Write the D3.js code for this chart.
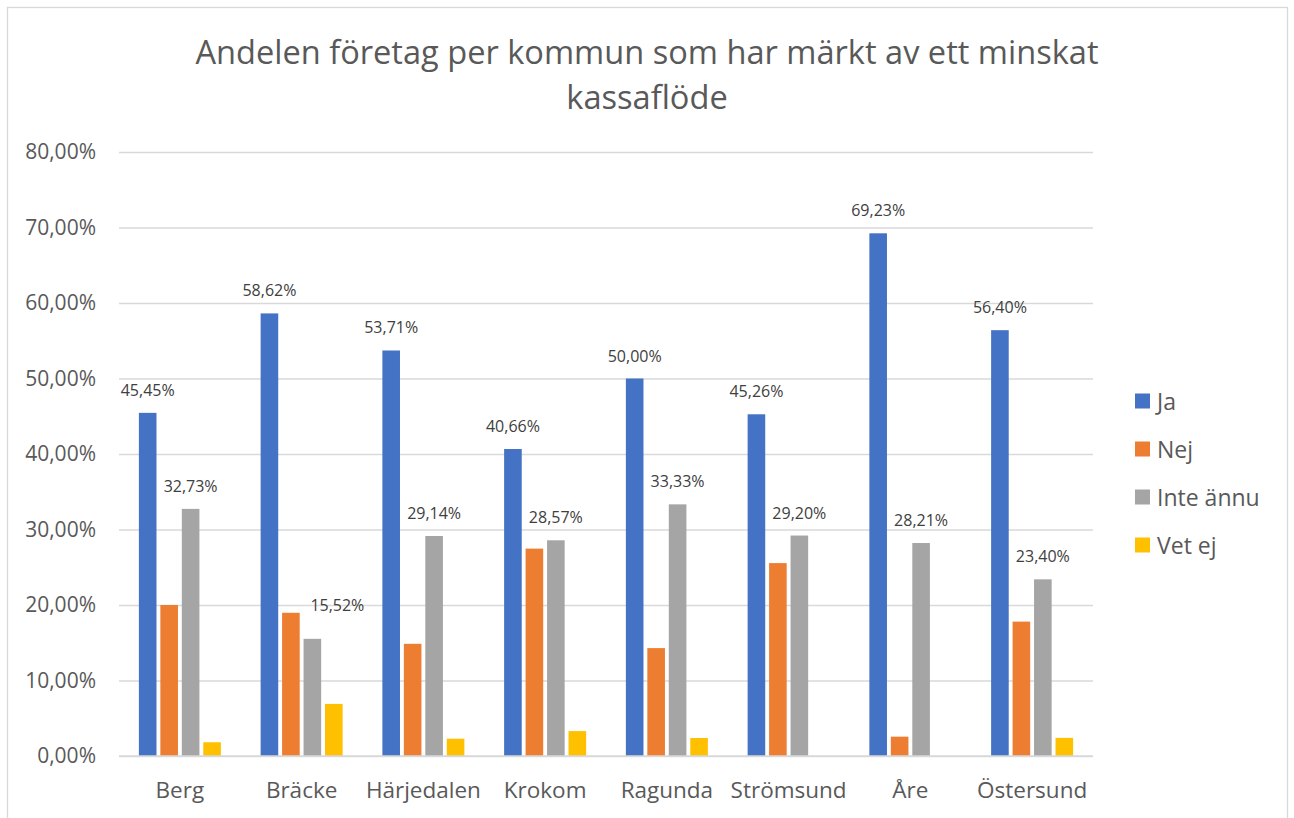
<!DOCTYPE html>
<html>
<head>
<meta charset="utf-8">
<script src="https://cdn.jsdelivr.net/npm/d3@7"></script>
<style>
  html, body { margin: 0; padding: 0; background: #fff; }
  svg { display: block; }
  text { font-family: "Open Sans", "Noto Sans", sans-serif; }
</style>
</head>
<body>
<svg id="chart" width="1294" height="818"></svg>
<script>
const titleLines = ["Andelen företag per kommun som har märkt av ett minskat", "kassaflöde"];
const categories = ["Berg", "Bräcke", "Härjedalen", "Krokom", "Ragunda", "Strömsund", "Åre", "Östersund"];
const seriesNames = ["Ja", "Nej", "Inte ännu", "Vet ej"];
const ja       = [45.45, 58.62, 53.71, 40.66, 50.00, 45.26, 69.23, 56.40];
const nej      = [20.00, 18.97, 14.86, 27.47, 14.29, 25.55, 2.56, 17.80];
const inteAnnu = [32.73, 15.52, 29.14, 28.57, 33.33, 29.20, 28.21, 23.40];
const vetEj    = [1.82, 6.90, 2.29, 3.30, 2.38, 0, 0, 2.40];
const labeledSeries = ["Ja", "Inte ännu"];
const yTicks = [0, 10, 20, 30, 40, 50, 60, 70, 80];
const colors = ["#4472C4", "#ED7D31", "#A5A5A5", "#FFC000"];

const seriesValues = [ja, nej, inteAnnu, vetEj];

const svg = d3.select("#chart");
const plot = { left: 119, right: 1093, top: 152, bottom: 756 };

const locale = d3.formatLocale({ decimal: ",", thousands: "\u00a0", grouping: [3], currency: ["", " kr"] });
const fmt = v => locale.format(".2f")(v) + "%";

// outer border
svg.append("rect")
  .attr("x", 7.5).attr("y", 7.5)
  .attr("width", 1280).attr("height", 830)
  .attr("fill", "#fff").attr("stroke", "#d9d9d9").attr("stroke-width", 1.3);

// title
svg.append("g").selectAll("text").data(titleLines).join("text")
  .attr("x", 647)
  .attr("y", (d, i) => 64 + i * 45)
  .attr("text-anchor", "middle")
  .attr("fill", "#595959")
  .attr("font-size", 32.6)
  .text(d => d);

const y = d3.scaleLinear().domain([0, 80]).range([plot.bottom, plot.top]);
const x0 = d3.scaleBand().domain(categories).range([plot.left, plot.right])
  .paddingInner(0.3265).paddingOuter(0.1633);
const x1 = d3.scaleBand().domain(seriesNames).range([0, x0.bandwidth()])
  .paddingInner(0.18).paddingOuter(0);
const color = d3.scaleOrdinal().domain(seriesNames).range(colors);

// gridlines + y labels
const yAxis = d3.axisLeft(y).tickValues(yTicks).tickSize(-(plot.right - plot.left)).tickFormat(d => fmt(d));
const gy = svg.append("g").attr("transform", `translate(${plot.left},0)`).call(yAxis);
gy.select(".domain").remove();
gy.selectAll(".tick line").attr("stroke", "#d9d9d9").attr("stroke-width", 1.3);
gy.selectAll(".tick text")
  .attr("x", -23)
  .attr("fill", "#595959")
  .attr("font-size", 21)
  .attr("font-family", "'Open Sans', sans-serif");

// bars
const data = [];
categories.forEach((c, ci) => {
  seriesNames.forEach((s, si) => {
    data.push({ cat: c, ci, series: s, si, value: seriesValues[si][ci] });
  });
});

svg.append("g").selectAll("rect").data(data.filter(d => d.value > 0)).join("rect")
  .attr("x", d => x0(d.cat) + x1(d.series))
  .attr("y", d => y(d.value))
  .attr("width", x1.bandwidth())
  .attr("height", d => y(0) - y(d.value))
  .attr("fill", d => color(d.series));

// baseline
svg.append("line")
  .attr("x1", plot.left).attr("x2", plot.right)
  .attr("y1", y(0)).attr("y2", y(0))
  .attr("stroke", "#d9d9d9").attr("stroke-width", 1.5);

// data labels (shift right/up when the label would collide with the left neighbour bar)
function labelPos(d) {
  let cx = x0(d.cat) + x1(d.series) + x1.bandwidth() / 2;
  let by = y(d.value) - 17;
  if (d.si > 0) {
    const leftVal = seriesValues[d.si - 1][d.ci];
    if (y(leftVal) < by + 2) {
      cx += 25;
      by -= 11;
    }
  }
  return [cx, by];
}
svg.append("g").selectAll("text")
  .data(data.filter(d => labeledSeries.includes(d.series)))
  .join("text")
  .attr("x", d => labelPos(d)[0])
  .attr("y", d => labelPos(d)[1])
  .attr("text-anchor", "middle")
  .attr("fill", "#404040")
  .attr("font-size", 16)
  .text(d => fmt(d.value));

// x axis labels
const xAxis = d3.axisBottom(x0).tickSize(0).tickPadding(0);
const gx = svg.append("g").attr("transform", `translate(0,${plot.bottom})`).call(xAxis);
gx.select(".domain").remove();
gx.selectAll(".tick text")
  .attr("y", 42).attr("dy", 0)
  .attr("fill", "#595959")
  .attr("font-size", 22.5)
  .attr("font-family", "'Open Sans', sans-serif");

// legend
const legend = svg.append("g").selectAll("g").data(seriesNames).join("g")
  .attr("transform", (d, i) => `translate(1135, ${401 + i * 48})`);
legend.append("rect")
  .attr("x", 0).attr("y", -7.5).attr("width", 15).attr("height", 15)
  .attr("fill", d => color(d));
legend.append("text")
  .attr("x", 22).attr("y", 8.5)
  .attr("fill", "#595959")
  .attr("font-size", 23)
  .text(d => d);
</script>
</body>
</html>
